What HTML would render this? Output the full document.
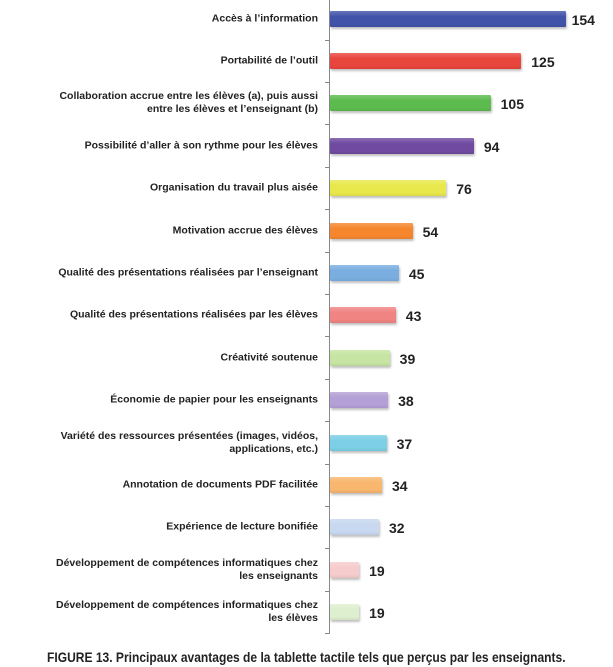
<!DOCTYPE html><html><head><style>
body{margin:0;width:613px;height:667px;background:#fff;font-family:"Liberation Sans",sans-serif;position:relative;overflow:hidden}
.ax{position:absolute;left:329px;top:0;width:1px;height:634px;background:#888}
.tk{position:absolute;left:325px;width:4px;height:1px;background:#888}
.lb{position:absolute;right:295px;width:300px;text-align:right;font-size:10.5px;font-weight:bold;color:#222;line-height:13px;transform:translateY(-50%)}
.b{position:absolute;left:330px;height:16px;border-radius:1px;box-shadow:1px 2px 2px rgba(0,0,0,.25);transform:translateY(-50%)}
.v{position:absolute;font-size:14px;font-weight:bold;color:#222;transform:translateY(-50%)}
.cap{position:absolute;top:649px;left:47px;font-size:14px;font-weight:bold;color:#222;white-space:nowrap;transform-origin:0 0;transform:scaleX(0.86)}
</style></head><body>
<div class="ax"></div>
<div id="c"></div>
<div class="cap">FIGURE 13. Principaux avantages de la tablette tactile tels que perçus par les enseignants.</div>
<script>
var d=[["Accès à l’information",154,"#4053a8"],["Portabilité de l’outil",125,"#e8453c"],["Collaboration accrue entre les élèves (a), puis aussi<br>entre les élèves et l’enseignant (b)",105,"#5cbb4e"],["Possibilité d’aller à son rythme pour les élèves",94,"#6f4aa0"],["Organisation du travail plus aisée",76,"#e8e84c"],["Motivation accrue des élèves",54,"#f5862e"],["Qualité des présentations réalisées par l’enseignant",45,"#7aaee0"],["Qualité des présentations réalisées par les élèves",43,"#f08482"],["Créativité soutenue",39,"#c6e4a2"],["Économie de papier pour les enseignants",38,"#b4a0d6"],["Variété des ressources présentées (images, vidéos,<br>applications, etc.)",37,"#7ccfe6"],["Annotation de documents PDF facilitée",34,"#f8b66e"],["Expérience de lecture bonifiée",32,"#c8d8f0"],["Développement de compétences informatiques chez<br>les enseignants",19,"#f6cccc"],["Développement de compétences informatiques chez<br>les élèves",19,"#deefcf"]];
var h="";
d.forEach(function(r,i){var y=18.5+i*42.4,w=r[1]*1.53;
h+='<div class="lb" style="top:'+y+'px">'+r[0]+'</div>';
h+='<div class="b" style="top:'+y+'px;width:'+w+'px;background:linear-gradient(#fff3 0%,'+r[2]+' 35%,'+r[2]+' 80%,#0001 100%),'+r[2]+'"></div>';
h+='<div class="v" style="top:'+(y+1)+'px;left:'+(330+w+(i==0?6:10))+'px">'+r[1]+'</div>';
h+='<div class="tk" style="top:'+(y+21)+'px"></div>';});
document.getElementById("c").innerHTML=h;
</script>
</body></html>
